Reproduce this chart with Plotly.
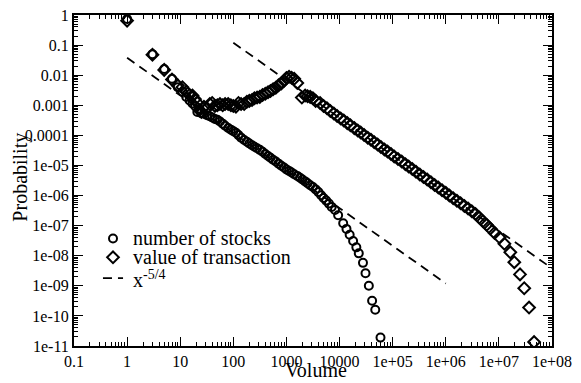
import plotly.graph_objects as go

# number of stocks (circles)
stocks_x = [1, 3, 5, 7, 9, 11, 13, 15, 17, 19, 21, 23, 25, 28, 32, 36, 40, 45, 50, 56,
            63, 70, 80, 90, 100, 112, 125, 140, 160, 180, 200, 225, 250, 280, 315, 355,
            400, 450, 500, 560, 630, 710, 800, 900, 1000, 1120, 1250, 1400, 1600, 1800,
            2000, 2250, 2500, 2800, 3150, 3550, 4000, 4500, 5000, 5600, 6300, 7100, 8200,
            9400, 11700, 13500, 15500, 18000, 20700, 23000, 27600, 30800, 35600, 41000,
            47000, 59000]
stocks_y = [0.74, 0.05, 0.016, 0.0076, 0.004, 0.0028, 0.0019, 0.00145, 0.00115, 0.00095,
            0.0006, 0.00075, 0.00055, 0.00052, 0.00047, 0.00043, 0.00039, 0.00035, 0.00033,
            0.00029, 0.000245, 0.00021, 0.000175, 0.000155, 0.000138, 0.000122, 0.000102,
            8.4e-05, 7.0e-05, 6.1e-05, 5.4e-05, 4.7e-05, 4.2e-05, 3.75e-05, 3.3e-05, 2.85e-05,
            2.4e-05, 2.05e-05, 1.8e-05, 1.55e-05, 1.35e-05, 1.15e-05, 9.8e-06, 8.5e-06,
            7.4e-06, 6.6e-06, 5.8e-06, 5.1e-06, 4.5e-06, 3.9e-06, 3.4e-06, 2.95e-06,
            2.55e-06, 2.2e-06, 1.93e-06, 1.6e-06, 1.3e-06, 1.02e-06, 8.3e-07, 6.8e-07,
            5.4e-07, 4.2e-07, 3.3e-07, 2.2e-07, 1.2e-07, 7.8e-08, 5.0e-08, 3.1e-08, 1.9e-08,
            1.2e-08, 5.8e-09, 2.6e-09, 1.0e-09, 3.2e-10, 1.6e-10, 1.9e-11]

# value of transaction (diamonds)
value_x = [1, 3, 5, 7, 9, 11, 13, 15, 17, 19, 21, 23, 25, 28, 32, 36, 40, 45, 50, 56,
           63, 70, 80, 90, 100, 112, 125, 140, 160, 180, 200, 225, 250, 280, 315, 355,
           400, 450, 500, 560, 630, 710, 800, 900, 1000, 1120, 1250, 1400, 1600, 1950,
           2250, 2500, 2800, 3150, 3550, 4300, 5000, 5800, 6700, 7800, 9000, 10500, 12000,
           14000, 16000, 19000, 22000, 25000, 29000, 34000, 39000, 45000, 52000, 60000,
           70000, 80000, 93000, 107000, 126000, 148000, 174000, 200000, 234000, 275000,
           324000, 380000, 447000, 525000, 617000, 724000, 851000, 1.0e6, 1.17e6, 1.38e6,
           1.62e6, 1.9e6, 2.24e6, 2.63e6, 3.09e6, 3.63e6, 4.27e6, 5.0e6, 5.9e6, 6.9e6,
           8.3e6, 1.03e7, 1.27e7, 1.64e7, 1.95e7, 2.5e7, 3.0e7, 3.7e7, 4.6e7]
value_y = [0.65, 0.048, 0.015, 0.0072, 0.0045, 0.004, 0.0028, 0.0022, 0.0021, 0.0016,
           0.0012, 0.0007, 0.0006, 0.0009, 0.0008, 0.0011, 0.0012, 0.00095, 0.001, 0.0011,
           0.001, 0.0011, 0.0011, 0.001, 0.00095, 0.0009, 0.0012, 0.0011, 0.0011, 0.0013,
           0.0014, 0.0015, 0.0017, 0.0018, 0.0019, 0.0022, 0.0024, 0.0027, 0.003, 0.0034,
           0.0038, 0.0046, 0.0053, 0.0065, 0.008, 0.0088, 0.0082, 0.0076, 0.0055, 0.0018,
           0.0021, 0.002, 0.0019, 0.0017, 0.0014, 0.00118, 0.00095, 0.00079, 0.00065,
           0.00053, 0.00044, 0.000366, 0.00031, 0.000255, 0.000216, 0.000174, 0.000145,
           0.000124, 0.000103, 8.4e-05, 7.1e-05, 5.9e-05, 4.95e-05, 4.1e-05, 3.4e-05,
           2.9e-05, 2.4e-05, 2.0e-05, 1.64e-05, 1.35e-05, 1.1e-05, 9.2e-06, 7.6e-06,
           6.2e-06, 5.0e-06, 4.1e-06, 3.4e-06, 2.75e-06, 2.25e-06, 1.84e-06, 1.5e-06,
           1.23e-06, 1.0e-06, 8.2e-07, 6.7e-07, 5.5e-07, 4.5e-07, 3.7e-07, 3.0e-07,
           2.45e-07, 1.85e-07, 1.4e-07, 1.07e-07, 8.0e-08, 5.7e-08, 4.0e-08, 2.5e-08,
           1.3e-08, 6.1e-09, 2.4e-09, 8.3e-10, 1.9e-10, 1.35e-11]

# x^-5/4 guide lines (end points)
fit1_x = [1, 1e6]
fit1_y = [0.038, 1.2e-9]
fit2_x = [100, 1e8]
fit2_y = [0.12, 3.8e-9]

x_ticks = [0.1, 1, 10, 100, 1000, 10000, 1e5, 1e6, 1e7, 1e8]
x_labels = ['0.1', '1', '10', '100', '1000', '10000', '1e+05', '1e+06', '1e+07', '1e+08']
y_ticks = [1, 0.1, 0.01, 0.001, 0.0001, 1e-5, 1e-6, 1e-7, 1e-8, 1e-9, 1e-10, 1e-11]
y_labels = ['1', '0.1', '0.01', '0.001', '0.0001', '1e-05', '1e-06', '1e-07', '1e-08',
            '1e-09', '1e-10', '1e-11']

legend_names = ['number of stocks', 'value of transaction', 'x<sup>-5/4</sup>']

serif = 'Liberation Serif'
dash = '9px,6px'

fig = go.Figure()
fig.add_trace(go.Scatter(x=stocks_x, y=stocks_y, mode='markers', showlegend=False,
                         marker=dict(symbol='circle-open', size=8, color='black',
                                     line=dict(width=2))))
fig.add_trace(go.Scatter(x=value_x, y=value_y, mode='markers', showlegend=False,
                         marker=dict(symbol='diamond-open', size=9, color='black',
                                     line=dict(width=2))))
fig.add_trace(go.Scatter(x=fit1_x, y=fit1_y, mode='lines', showlegend=False,
                         line=dict(color='black', width=1.8, dash=dash)))
fig.add_trace(go.Scatter(x=fit2_x, y=fit2_y, mode='lines', showlegend=False,
                         line=dict(color='black', width=1.8, dash=dash)))

# hand-made legend on a hidden overlay axis (tighter rows than plotly's legend)
leg_sym_x = 0.0816
leg_text_x = 0.119
leg_rows = [0.325, 0.268, 0.205]
fig.add_trace(go.Scatter(x=[leg_sym_x], y=[leg_rows[0]], xaxis='x2', yaxis='y2',
                         mode='markers', showlegend=False, hoverinfo='skip',
                         marker=dict(symbol='circle-open', size=8, color='black',
                                     line=dict(width=2))))
fig.add_trace(go.Scatter(x=[leg_sym_x], y=[leg_rows[1]], xaxis='x2', yaxis='y2',
                         mode='markers', showlegend=False, hoverinfo='skip',
                         marker=dict(symbol='diamond-open', size=9, color='black',
                                     line=dict(width=2))))
fig.add_trace(go.Scatter(x=[leg_sym_x - 0.021, leg_sym_x + 0.021], y=[leg_rows[2]] * 2,
                         xaxis='x2', yaxis='y2', mode='lines', showlegend=False,
                         hoverinfo='skip', line=dict(color='black', width=1.8, dash=dash)))
for name, row in zip(legend_names, leg_rows):
    fig.add_annotation(x=leg_text_x, y=row - (0.004 if 'sup' in name else 0),
                       xref='paper', yref='paper', text=name,
                       showarrow=False, xanchor='left', yanchor='middle',
                       font=dict(family=serif, size=20, color='black'))

# axis titles
fig.add_annotation(x=0.506, y=-0.072, xref='paper', yref='paper', text='Volume',
                   showarrow=False, xanchor='center', yanchor='middle',
                   font=dict(family=serif, size=20, color='black'))
fig.add_annotation(x=-0.112, y=0.51, xref='paper', yref='paper', text='Probability',
                   showarrow=False, xanchor='center', yanchor='middle', textangle=-90,
                   font=dict(family=serif, size=20, color='black'))

# the page body adds an 8px margin, and anything right of the body box is hidden,
# so the figure is kept 16px narrower than the window
fig.update_layout(width=565, height=375,
                  margin=dict(l=66, r=21, t=7, b=37, autoexpand=False),
                  plot_bgcolor='white', paper_bgcolor='white', showlegend=False,
                  font=dict(family=serif, size=16, color='black'),
                  xaxis2=dict(overlaying='x', range=[0, 1], visible=False),
                  yaxis2=dict(overlaying='y', range=[0, 1], visible=False))

axis_style = dict(type='log', showline=True, linecolor='black', linewidth=2, mirror='allticks',
                  ticks='inside', ticklen=9, tickwidth=1, tickcolor='black', showgrid=False,
                  zeroline=False, tickmode='array', ticklabeloverflow='allow', automargin=False,
                  tickfont=dict(family=serif, size=16, color='black'),
                  minor=dict(ticks='inside', ticklen=4, tickwidth=1, tickcolor='black',
                             dtick='D1', showgrid=False))

fig.update_layout(xaxis=dict(axis_style, range=[-1, 8], tickvals=x_ticks, ticktext=x_labels),
                  yaxis=dict(axis_style, range=[-11, 0], tickvals=y_ticks, ticktext=y_labels))

fig.write_html("out.html")
